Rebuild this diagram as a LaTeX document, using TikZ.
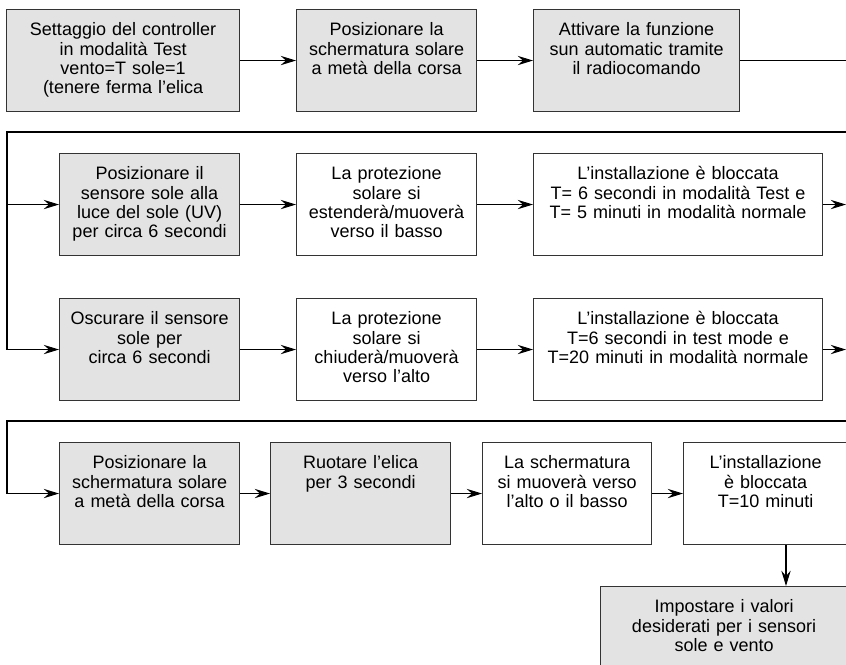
\documentclass[tikz,border=0pt]{standalone}
\usepackage{fontspec}
\setmainfont{Liberation Sans}
\usetikzlibrary{arrows.meta}
\definecolor{boxgray}{HTML}{E3E3E3}
\tikzset{
  stepbox/.style={draw=black!80, line width=0.8pt, anchor=north west, inner sep=0pt,
    align=center, text height=19.5pt, text depth=57pt, text width=#1},
  graybox/.style={stepbox=#1, fill=boxgray},
  arr/.style={-{Stealth[length=11.5pt,width=7pt,inset=4pt]}},
  line/.style={line width=0.8pt}
}
\begin{document}
\begin{tikzpicture}[x=0.75pt,y=-0.75pt,font=\fontsize{13.5}{14.6}\selectfont]
\path[use as bounding box, clip] (0,0) rectangle (846,664);

\node[graybox=174.75pt] (A) at (6,9) {Settaggio del controller\\in modalità Test\\vento=T sole=1\\(tenere ferma l'elica};
\node[graybox=135pt] (B) at (296,9) {Posizionare la\\schermatura solare\\a metà della corsa};
\node[graybox=154.5pt] (C) at (533,9) {Attivare la funzione\\sun automatic tramite\\il radiocomando};

\node[graybox=135pt] (D) at (59,153) {Posizionare il\\sensore sole alla\\luce del sole (UV)\\per circa 6 secondi};
\node[stepbox=135pt] (E) at (296,153) {La protezione\\solare si\\estenderà/muoverà\\verso il basso};
\node[stepbox=216.75pt] (F) at (533,153) {L'installazione è bloccata\\T= 6 secondi in modalità Test e\\T= 5 minuti in modalità normale};

\node[graybox=135pt] (G) at (59,298) {Oscurare il sensore\\sole per\\circa 6 secondi};
\node[stepbox=135pt] (H) at (296,298) {La protezione\\solare si\\chiuderà/muoverà\\verso l'alto};
\node[stepbox=216.75pt] (I) at (533,298) {L'installazione è bloccata\\T=6 secondi in test mode e\\T=20 minuti in modalità normale};

\node[graybox=135pt] (J) at (59,442) {Posizionare la\\schermatura solare\\a metà della corsa};
\node[graybox=135pt] (K) at (270,442) {Ruotare l'elica\\per 3 secondi};
\node[stepbox=126.75pt] (L) at (482,442) {La schermatura\\si muoverà verso\\l'alto o il basso};
\node[stepbox=123pt] (M) at (683,442) {L'installazione\\è bloccata\\T=10 minuti};

\node[graybox=185.25pt] (N) at (600,586) {Impostare i valori\\desiderati per i sensori\\sole e vento};

\coordinate (xr) at (870,0);
\coordinate (redge) at (846,0);
\coordinate (bend1) at (7,132);
\coordinate (bend2) at (7,421);
\coordinate (mn) at (786,0);

\draw[line,arr] (A) -- (B);
\draw[line,arr] (B) -- (C);
\draw[line,arr] (C.east) -- (C.east -| xr) |- (bend1) |- (G.west);
\draw[line,arr] (bend1 |- D.west) -- (D.west);

\draw[line,arr] (D) -- (E);
\draw[line,arr] (E) -- (F);
\draw[line,arr] (F.east) -- (F.east -| redge);

\draw[line,arr] (G) -- (H);
\draw[line,arr] (H) -- (I);
\draw[line,arr] (I.east) -- (I.east -| redge);

\draw[line,arr] (bend2 -| xr) -- (bend2) |- (J.west);
\draw[line,arr] (J) -- (K);
\draw[line,arr] (K) -- (L);
\draw[line,arr] (L) -- (M);
\draw[line,arr] (M.south -| mn) -- (N.north -| mn);
\end{tikzpicture}
\end{document}
